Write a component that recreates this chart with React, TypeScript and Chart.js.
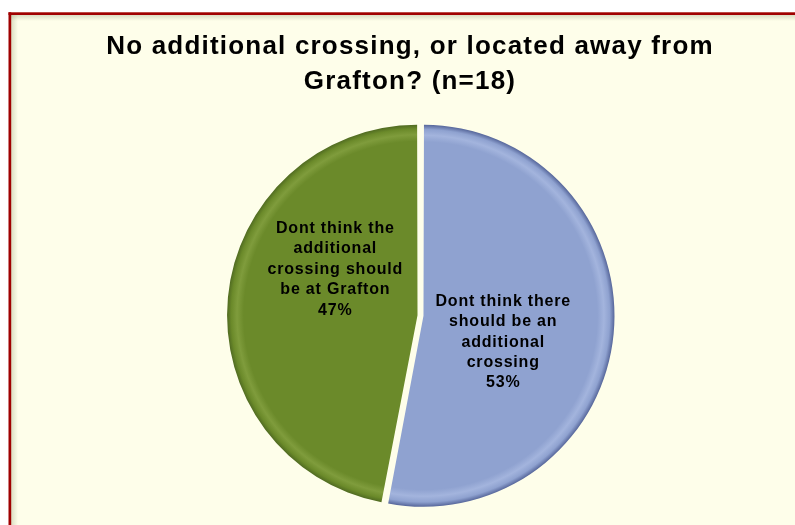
import React, { useEffect, useRef } from "react";
import { Chart, registerables } from "chart.js";

Chart.register(...registerables);

const titleLines = ["No additional crossing, or located away from", "Grafton? (n=18)"];
const categories = [
  "Dont think there should be an additional crossing",
  "Dont think the additional crossing should be at Grafton",
];
const percentValues = [53, 47];
const sliceColors = ["#8fa2d0", "#6b8a2a"];
const sliceLight = ["#a3b4dd", "#7f9c3c"];
const sliceDark = ["#56669a", "#4c6620"];
const labelLines = [
  ["Dont think there", "should be an", "additional", "crossing", "53%"],
  ["Dont think the", "additional", "crossing should", "be at Grafton", "47%"],
];
// label anchor, in units of the pie radius, relative to the pie centre
const labelAnchors = [
  [0.44, 0.142],
  [-0.453, -0.245],
];

const FONT = "'Liberation Sans', Arial, sans-serif";

const framePlugin = {
  id: "frame",
  beforeDraw(chart: any) {
    const { ctx, width, height } = chart;
    ctx.save();
    ctx.fillStyle = "#ffffff";
    ctx.fillRect(0, 0, width, height);
    ctx.fillStyle = "#fefeea";
    ctx.fillRect(9, 12, width - 9, height - 12);
    const g1 = ctx.createLinearGradient(11, 0, 18, 0);
    g1.addColorStop(0, "rgba(150,160,120,0.35)");
    g1.addColorStop(1, "rgba(150,160,120,0)");
    ctx.fillStyle = g1;
    ctx.fillRect(11, 15, 7, height - 15);
    const g2 = ctx.createLinearGradient(0, 15, 0, 21);
    g2.addColorStop(0, "rgba(150,160,120,0.35)");
    g2.addColorStop(1, "rgba(150,160,120,0)");
    ctx.fillStyle = g2;
    ctx.fillRect(11, 15, width - 11, 6);
    ctx.fillStyle = "#a00000";
    ctx.fillRect(8.5, 12.3, width - 8.5, 2.7);
    ctx.fillRect(8.5, 12.3, 2.7, height - 12.3);

    // title
    ctx.letterSpacing = "1.2px";
    ctx.fillStyle = "#000000";
    ctx.font = `bold 26px ${FONT}`;
    ctx.textAlign = "center";
    ctx.textBaseline = "middle";
    titleLines.forEach((t, i) => ctx.fillText(t, 410, 47 + i * 35));
    ctx.restore();
  },
  afterDraw(chart: any) {
    const { ctx } = chart;
    const meta = chart.getDatasetMeta(0);
    ctx.save();
    ctx.letterSpacing = "0.8px";
    ctx.fillStyle = "#000000";
    ctx.font = `bold 16px ${FONT}`;
    ctx.textAlign = "center";
    ctx.textBaseline = "middle";
    meta.data.forEach((arc: any, i: number) => {
      const r = arc.outerRadius;
      const lines = labelLines[i];
      const cx = arc.x + labelAnchors[i][0] * r;
      const cy = arc.y + labelAnchors[i][1] * r;
      const lh = 20.4;
      const top = cy - ((lines.length - 1) * lh) / 2;
      lines.forEach((t, j) => ctx.fillText(t, cx, top + j * lh));
    });
    ctx.restore();
  },
};

function sliceFill(context: any) {
  const i = context.dataIndex;
  const chart = context.chart;
  const area = chart.chartArea;
  if (!area) return sliceColors[i];
  const cx = (area.left + area.right) / 2;
  const cy = (area.top + area.bottom) / 2;
  const r = (Math.min(area.right - area.left, area.bottom - area.top) - 12) / 2;
  const g = chart.ctx.createRadialGradient(cx, cy, 0, cx, cy, r + 3);
  g.addColorStop(0, sliceColors[i]);
  g.addColorStop(0.91, sliceColors[i]);
  g.addColorStop(0.945, sliceLight[i]);
  g.addColorStop(0.975, sliceColors[i]);
  g.addColorStop(1, sliceDark[i]);
  return g;
}

export default function App() {
  const ref = useRef<HTMLCanvasElement | null>(null);
  useEffect(() => {
    if (!ref.current) return;
    const chart = new Chart(ref.current, {
      type: "pie",
      data: {
        labels: categories,
        datasets: [
          {
            data: percentValues,
            backgroundColor: sliceFill,
            borderWidth: 0,
            offset: 12,
          },
        ],
      },
      options: {
        animation: false,
        responsive: true,
        maintainAspectRatio: false,
        layout: { padding: { left: 100, right: 54, top: 121.5, bottom: 15.5 } },
        plugins: {
          legend: { display: false },
          tooltip: { enabled: false },
          title: { display: false },
        },
      },
      plugins: [framePlugin],
    });
    return () => chart.destroy();
  }, []);
  return (
    <div style={{ position: "absolute", left: 0, top: 0, width: 795, height: 525 }}>
      <canvas ref={ref} />
    </div>
  );
}
